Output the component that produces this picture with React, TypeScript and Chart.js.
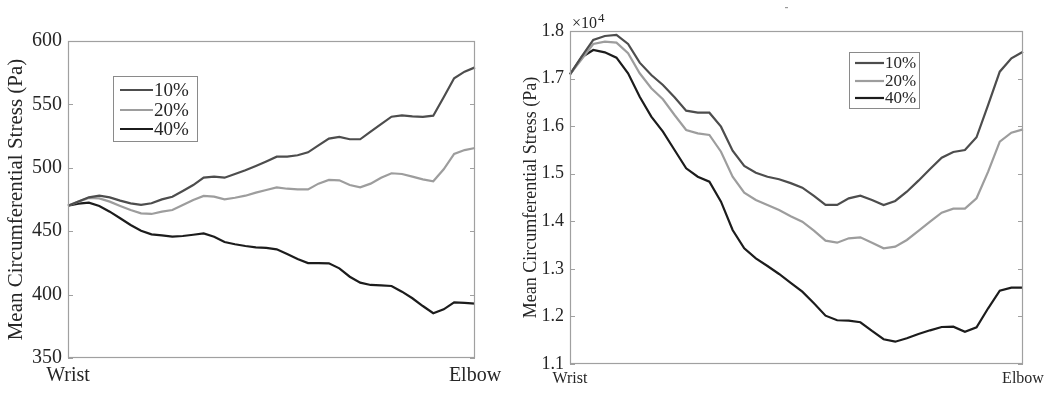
import React, { useEffect, useRef } from "react";
import { Chart, registerables } from "chart.js";

Chart.register(...registerables);

const SERIES_NAMES = ["10%", "20%", "40%"];
const SERIES_COLORS = ["#4d4d4d", "#9d9d9d", "#1c1c1c"];
const END_LABELS = ["Wrist", "Elbow"];
const POINT_COUNT = 40;
const Y_TITLE = "Mean Circumferential Stress (Pa)";

// Left panel (Pa)
const LEFT_Y_RANGE = [350, 600];
const LEFT_Y_STEP = 50;
const LEFT_10 = [470.1, 473.5, 476.7, 478.0, 476.7, 474.1, 472.0, 470.7, 472.0, 475.1,
  477.2, 481.7, 486.4, 492.2, 493.0, 492.2, 495.1, 498.0, 501.4, 505.0,
  508.8, 508.8, 509.9, 512.2, 517.7, 523.0, 524.3, 522.5, 522.5, 528.5,
  534.5, 540.3, 541.4, 540.6, 540.1, 541.1, 555.6, 570.6, 575.8, 579.2];
const LEFT_20 = [470.1, 473.3, 476.2, 475.9, 473.3, 469.9, 466.7, 464.1, 463.6, 465.4,
  466.7, 470.7, 474.6, 477.8, 477.2, 475.1, 476.4, 478.0, 480.4, 482.5,
  484.6, 483.5, 483.0, 483.0, 487.5, 490.4, 490.1, 486.4, 484.6, 487.5,
  492.2, 495.7, 495.1, 493.0, 490.9, 489.4, 498.8, 510.9, 514.0, 515.6];
const LEFT_40 = [470.1, 471.7, 472.5, 469.9, 465.4, 460.2, 454.9, 450.4, 447.5, 446.7,
  445.7, 446.2, 447.2, 448.3, 445.7, 441.5, 439.7, 438.3, 437.3, 436.8,
  435.7, 432.0, 428.1, 424.9, 424.9, 424.7, 420.7, 414.1, 409.4, 407.6,
  407.3, 406.8, 402.3, 397.1, 391.0, 385.3, 388.4, 393.9, 393.4, 392.9];

// Right panel (Pa)
const RIGHT_Y_RANGE = [11000, 18000];
const RIGHT_Y_STEP = 1000;
const RIGHT_EXPONENT = "4";
const RIGHT_10 = [17090, 17460, 17811, 17895, 17916, 17727, 17334, 17075, 16865, 16606,
  16325, 16283, 16283, 15989, 15484, 15162, 15022, 14937, 14883, 14802,
  14707, 14532, 14343, 14343, 14483, 14538, 14448, 14343, 14427, 14622,
  14854, 15099, 15337, 15457, 15499, 15766, 16445, 17145, 17426, 17565];
const RIGHT_20 = [17090, 17404, 17727, 17776, 17755, 17531, 17111, 16796, 16564, 16234,
  15919, 15849, 15814, 15463, 14937, 14601, 14448, 14343, 14237, 14108,
  13992, 13802, 13592, 13550, 13642, 13663, 13550, 13432, 13467, 13607,
  13796, 13992, 14181, 14265, 14265, 14483, 15043, 15673, 15862, 15932];
const RIGHT_40 = [17090, 17447, 17601, 17552, 17439, 17111, 16619, 16199, 15884, 15499,
  15114, 14937, 14832, 14412, 13817, 13432, 13222, 13060, 12892, 12707,
  12520, 12276, 12016, 11919, 11910, 11877, 11694, 11520, 11469, 11540,
  11631, 11708, 11778, 11784, 11679, 11771, 12171, 12541, 12604, 12604];

const FONT = "'Liberation Serif', 'Times New Roman', serif";
const TEXT_COLOR = "#262626";
const FRAME_COLOR = "#a0a0a0";

function xLabels() {
  return Array.from({ length: POINT_COUNT }, (_, i) =>
    i === 0 ? END_LABELS[0] : i === POINT_COUNT - 1 ? END_LABELS[1] : ""
  );
}

const LEFT_SPEC = {
  width: 520, height: 394, canvasLeft: 0,
  series: [LEFT_10, LEFT_20, LEFT_40],
  yRange: LEFT_Y_RANGE, yStep: LEFT_Y_STEP, fmt: (v: number) => String(v),
  yAxisWidth: 68, xAxisHeight: 36, padTop: 41, padRight: 45,
  tickSize: 20, xTickSize: 20, titleSize: 21, titlePad: 4, tickPad: 6, xTickPad: 6,
  legend: { dx: 45, dy: 35, w: 84, h: 65, lineFrom: 7, lineTo: 40, textX: 41, rows: [14, 34, 53], size: 19 },
  exponent: null as null | string, dashX: null as null | number,
};

const RIGHT_SPEC = {
  width: 525, height: 394, canvasLeft: 520,
  series: [RIGHT_10, RIGHT_20, RIGHT_40],
  yRange: RIGHT_Y_RANGE, yStep: RIGHT_Y_STEP, fmt: (v: number) => (v / 10000).toFixed(1),
  yAxisWidth: 50, xAxisHeight: 30, padTop: 31, padRight: 22,
  tickSize: 18, xTickSize: 16, titleSize: 18, titlePad: 0, tickPad: 6, xTickPad: 5,
  legend: { dx: 279, dy: 21, w: 70, h: 56, lineFrom: 6, lineTo: 35, textX: 36, rows: [11, 29, 46], size: 17 },
  exponent: RIGHT_EXPONENT as null | string, dashX: 265 as null | number,
};

type Spec = typeof LEFT_SPEC;

function makeConfig(spec: Spec): any {
  const decor = {
    id: "decor",
    afterDraw(chart: any) {
      const ctx = chart.ctx;
      const a = chart.chartArea;
      const y = chart.scales.y;
      ctx.save();
      // frame
      ctx.strokeStyle = FRAME_COLOR;
      ctx.lineWidth = 1.2;
      ctx.strokeRect(a.left + 0.5, a.top + 0.5, a.right - a.left - 1, a.bottom - a.top - 1);
      // inward ticks on both sides
      y.ticks.forEach((t: any) => {
        const py = Math.round(y.getPixelForValue(t.value)) + 0.5;
        ctx.beginPath();
        ctx.moveTo(a.left, py);
        ctx.lineTo(a.left + 5, py);
        ctx.moveTo(a.right, py);
        ctx.lineTo(a.right - 5, py);
        ctx.stroke();
      });
      // legend
      const L = spec.legend;
      const bx = a.left + L.dx;
      const by = a.top + L.dy;
      ctx.fillStyle = "#ffffff";
      ctx.fillRect(bx, by, L.w, L.h);
      ctx.strokeStyle = "#8a8a8a";
      ctx.lineWidth = 1;
      ctx.strokeRect(bx + 0.5, by + 0.5, L.w, L.h);
      ctx.font = `${L.size}px ${FONT}`;
      ctx.textBaseline = "middle";
      ctx.textAlign = "left";
      chart.data.datasets.forEach((ds: any, i: number) => {
        const ry = by + L.rows[i];
        ctx.strokeStyle = ds.borderColor;
        ctx.lineWidth = 2.2;
        ctx.beginPath();
        ctx.moveTo(bx + L.lineFrom, ry);
        ctx.lineTo(bx + L.lineTo, ry);
        ctx.stroke();
        ctx.fillStyle = TEXT_COLOR;
        ctx.fillText(ds.label, bx + L.textX, ry + 1);
      });
      // exponent
      if (spec.exponent) {
        ctx.fillStyle = TEXT_COLOR;
        ctx.textBaseline = "alphabetic";
        ctx.font = `16px ${FONT}`;
        const base = "\u00d710";
        ctx.fillText(base, a.left + 2, a.top - 3);
        const w = ctx.measureText(base).width;
        ctx.font = `13px ${FONT}`;
        ctx.fillText(spec.exponent, a.left + 3 + w, a.top - 9);
      }
      if (spec.dashX !== null) {
        ctx.fillStyle = "#9a9a9a";
        ctx.fillRect(spec.dashX, 7, 3, 1.2);
      }
      ctx.restore();
    },
  };

  return {
    type: "line",
    data: {
      labels: xLabels(),
      datasets: spec.series.map((s, i) => ({
        label: SERIES_NAMES[i],
        data: s,
        borderColor: SERIES_COLORS[i],
        backgroundColor: SERIES_COLORS[i],
        borderWidth: 2.2,
        pointRadius: 0,
        tension: 0,
        fill: false,
      })),
    },
    options: {
      animation: false,
      responsive: false,
      devicePixelRatio: 1,
      layout: { padding: { top: spec.padTop, right: spec.padRight, left: 0, bottom: 0 } },
      plugins: { legend: { display: false }, tooltip: { enabled: false }, title: { display: false } },
      scales: {
        x: {
          type: "category",
          offset: false,
          grid: { display: false, drawTicks: false },
          border: { display: false },
          ticks: {
            autoSkip: false, maxRotation: 0, minRotation: 0,
            padding: spec.xTickPad, color: TEXT_COLOR,
            font: { family: FONT, size: spec.xTickSize },
          },
          afterFit: (s: any) => {
            s.height = spec.xAxisHeight;
            s.paddingLeft = 0;
            s.paddingRight = 0;
          },
        },
        y: {
          min: spec.yRange[0],
          max: spec.yRange[1],
          grid: { display: false, drawTicks: false },
          border: { display: false },
          ticks: {
            stepSize: spec.yStep, padding: spec.tickPad, color: TEXT_COLOR,
            font: { family: FONT, size: spec.tickSize },
            callback: (v: any) => spec.fmt(Number(v)),
          },
          title: {
            display: true, text: Y_TITLE, color: TEXT_COLOR,
            font: { family: FONT, size: spec.titleSize },
            padding: { top: spec.titlePad, bottom: 0 },
          },
          afterFit: (s: any) => {
            s.width = spec.yAxisWidth;
            s.paddingTop = 0;
            s.paddingBottom = 0;
          },
        },
      },
    },
    plugins: [decor],
  };
}

function Panel({ spec }: { spec: Spec }) {
  const ref = useRef<HTMLCanvasElement>(null);
  useEffect(() => {
    const chart = new Chart(ref.current as HTMLCanvasElement, makeConfig(spec));
    return () => chart.destroy();
  }, [spec]);
  return (
    <canvas
      ref={ref}
      width={spec.width}
      height={spec.height}
      style={{ position: "absolute", left: spec.canvasLeft, top: 0, width: spec.width, height: spec.height }}
    />
  );
}

export default function App() {
  return (
    <div style={{ position: "fixed", left: 0, top: 0, width: 1045, height: 394, background: "#ffffff", overflow: "hidden" }}>
      <Panel spec={LEFT_SPEC} />
      <Panel spec={RIGHT_SPEC} />
    </div>
  );
}
